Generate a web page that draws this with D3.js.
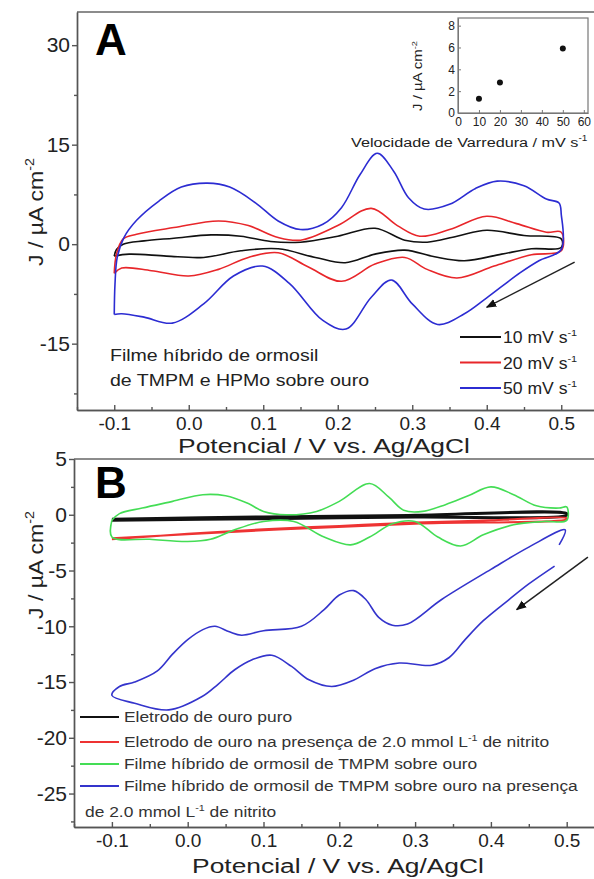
<!DOCTYPE html>
<html>
<head>
<meta charset="utf-8">
<script src="https://cdn.jsdelivr.net/npm/d3@7"></script>
<style>
  body { margin: 0; background: #fff; }
  text { font-family: "Liberation Sans", Arial, sans-serif; }
</style>
</head>
<body>
<svg width="594" height="879"></svg>
<script>
// ---------- data ----------
var xTicks = [-0.1, 0.0, 0.1, 0.2, 0.3, 0.4, 0.5];
var xMinor = [-0.15, -0.05, 0.05, 0.15, 0.25, 0.35, 0.45];
var yTicksA = [-15, 0, 15, 30];
var yMinorA = [-22.5, -7.5, 7.5, 22.5];
var yTicksB = [-25, -20, -15, -10, -5, 0, 5];
var yMinorB = [-27.5, -22.5, -17.5, -12.5, -7.5, -2.5, 2.5];

// panel A : CVs at three scan rates (E / V, J / uA cm-2)
var cv10 = [[-0.1,-1.8],[-0.097,-0.8],[-0.088,0.0],[-0.06,0.5],[-0.02,0.9],[0.03,1.4],[0.07,1.2],[0.11,0.4],[0.15,0.3],[0.2,1.2],[0.25,2.4],[0.29,0.6],[0.32,0.3],[0.36,1.2],[0.40,2.1],[0.45,1.3],[0.5,0.8],
  [0.5,-0.5],[0.46,-0.7],[0.42,-1.5],[0.37,-2.5],[0.33,-1.9],[0.29,-0.9],[0.25,-1.5],[0.21,-2.8],[0.17,-2.0],[0.12,-0.7],[0.07,-1.0],[0.02,-2.0],[-0.03,-1.8],[-0.08,-1.5],[-0.1,-1.8]];
var cv20 = [[-0.1,-4.4],[-0.097,-1.5],[-0.088,0.8],[-0.07,1.5],[-0.02,2.5],[0.04,3.5],[0.08,2.8],[0.12,1.0],[0.15,0.6],[0.2,2.8],[0.245,5.4],[0.28,2.8],[0.31,1.2],[0.35,2.2],[0.40,4.2],[0.44,3.1],[0.48,1.8],[0.5,1.8],
  [0.5,-1.0],[0.46,-1.6],[0.41,-3.3],[0.36,-5.1],[0.32,-3.8],[0.29,-2.0],[0.25,-3.0],[0.205,-5.6],[0.16,-3.4],[0.12,-1.3],[0.08,-2.0],[0.04,-3.8],[0.0,-4.8],[-0.05,-4.0],[-0.09,-3.6],[-0.1,-4.4]];
var cv50 = [[-0.1,-10.6],[-0.099,-6],[-0.096,-2],[-0.087,1.0],[-0.07,3.6],[-0.04,6.5],[-0.01,8.6],[0.025,9.2],[0.055,8.6],[0.09,6.2],[0.12,3.5],[0.15,2.2],[0.18,3.0],[0.205,5.5],[0.23,10.5],[0.253,13.7],[0.275,11.0],[0.295,7.0],[0.316,5.3],[0.35,6.0],[0.385,8.4],[0.414,9.5],[0.45,8.8],[0.48,6.8],[0.497,6.2],[0.5,4.5],
  [0.5,-0.8],[0.47,-2.5],[0.445,-4.3],[0.40,-8.1],[0.37,-10.5],[0.334,-12.1],[0.30,-9.0],[0.272,-5.4],[0.245,-8.0],[0.211,-12.8],[0.18,-11.5],[0.135,-5.9],[0.099,-3.3],[0.06,-4.8],[0.02,-9.0],[-0.022,-11.9],[-0.06,-11.0],[-0.09,-10.5],[-0.1,-10.6]];
var seriesA = [cv10, cv20, cv50];
var labelsA = ["10 mV s", "20 mV s", "50 mV s"];
var colorsA = ["#111111", "#e8262a", "#2c2cd2"];

// inset : peak current vs scan rate
var scanRates = [10, 20, 50];
var peakJ = [1.3, 2.8, 5.9];
var insetXTicks = [0, 10, 20, 30, 40, 50, 60];
var insetYTicks = [0, 2, 4, 6, 8];

// panel B
var cvGold = [[-0.1,-0.4],[0.1,-0.2],[0.3,-0.05],[0.5,0.1],[0.5,-0.05],[0.3,-0.2],[0.1,-0.35],[-0.1,-0.5]];
var cvGoldNitrite = [[-0.1,-2.2],[0.0,-1.7],[0.1,-1.3],[0.2,-1.0],[0.3,-0.7],[0.4,-0.5],[0.5,-0.3],[0.5,-0.4],[0.3,-0.8],[0.1,-1.4],[-0.1,-2.1]];
var cvFilm = [[-0.1,-0.5],[-0.09,0.1],[-0.06,0.6],[-0.02,1.2],[0.02,1.8],[0.05,1.7],[0.08,1.0],[0.1,0.3],[0.13,0.0],[0.17,0.3],[0.2,1.2],[0.24,2.8],[0.265,1.6],[0.285,0.4],[0.31,0.3],[0.34,0.9],[0.37,1.7],[0.40,2.5],[0.43,1.8],[0.46,0.8],[0.49,0.6],[0.5,0.7],
  [0.5,-0.5],[0.47,-0.6],[0.43,-0.9],[0.39,-1.8],[0.36,-2.8],[0.33,-2.0],[0.3,-0.6],[0.27,-0.8],[0.24,-2.0],[0.215,-2.7],[0.18,-2.0],[0.14,-0.6],[0.1,-0.6],[0.06,-1.4],[0.03,-2.2],[0.0,-2.4],[-0.05,-2.2],[-0.1,-2.0],[-0.1,-0.5]];
var cvFilmNitrite = [[0.484,-4.6],[0.45,-6.2],[0.424,-7.6],[0.39,-9.5],[0.366,-11.2],[0.345,-12.8],[0.322,-13.5],[0.279,-13.3],[0.247,-13.8],[0.22,-14.8],[0.19,-15.4],[0.16,-14.8],[0.137,-13.6],[0.111,-12.6],[0.085,-13.0],[0.062,-13.9],[0.04,-15.2],[0.019,-16.3],[-0.025,-17.5],[-0.07,-16.9],[-0.1,-16.2],
  [-0.09,-15.4],[-0.07,-15.0],[-0.04,-14.0],[-0.02,-12.5],[0.0,-11.2],[0.02,-10.3],[0.036,-10.0],[0.055,-10.5],[0.071,-10.8],[0.1,-10.4],[0.15,-10.0],[0.18,-8.5],[0.2,-7.2],[0.219,-6.8],[0.235,-7.6],[0.252,-9.2],[0.27,-9.9],[0.29,-9.8],[0.335,-7.6],[0.40,-4.9],[0.45,-2.9],[0.498,-1.35],[0.49,-2.7]];
var seriesB = [cvGold, cvGoldNitrite, cvFilm, cvFilmNitrite];
var colorsB = ["#111111", "#ee3333", "#44dd55", "#3434cc"];
var widthsB = [3, 2, 1.6, 1.6];
var labelsB = [
  [["Eletrodo de ouro puro"]],
  [["Eletrodo de ouro na presença de 2.0 mmol L"], ["-1", true], [" de nitrito"]],
  [["Filme híbrido de ormosil de TMPM sobre ouro"]],
  [["Filme híbrido de ormosil de TMPM sobre ouro na presença"]]
];

// ---------- helpers ----------
var svg = d3.select("svg");
svg.append("rect").attr("width", 594).attr("height", 879).attr("fill", "#fff");
var defs = svg.append("defs");
defs.append("marker").attr("id", "head").attr("viewBox", "0 0 10 10")
  .attr("refX", 9).attr("refY", 5).attr("markerWidth", 7).attr("markerHeight", 7)
  .attr("orient", "auto").append("path").attr("d", "M0,1 L10,5 L0,9 Z").attr("fill", "#111");

function txt(parent, x, y, parts, o) {
  var tr = "translate(" + x + "," + y + ")" + (o.rot ? " rotate(" + o.rot + ")" : "") + " scale(" + (o.sx || 1) + ",1)";
  var t = parent.append("g").attr("transform", tr).append("text")
    .attr("font-size", o.size).attr("text-anchor", o.anchor || "start")
    .attr("fill", o.fill || "#222").attr("font-weight", o.weight || "normal");
  var up = false;
  parts.forEach(function(p) {
    var ts = t.append("tspan").text(p[0]);
    if (p[1]) { ts.attr("font-size", o.size * 0.62); if (!up) ts.attr("dy", -o.size * 0.42); up = true; }
    else if (up) { ts.attr("dy", o.size * 0.42); up = false; }
  });
  return t;
}
function fmt(f) { return function(d) { return d3.format(f)(d).replace("\u2212", "-"); }; }
function styleAxis(g, size) {
  g.selectAll("path.domain, line").attr("stroke", "#555").attr("stroke-width", 1.4);
  g.selectAll("text").attr("font-size", size).attr("fill", "#222")
    .attr("font-family", "'Liberation Sans', Arial, sans-serif");
}

function panelAxes(x, y, yMaj, yMin) {
  var x0 = x.range()[0], x1 = x.range()[1], y0 = y.range()[0], y1 = y.range()[1];
  svg.append("line").attr("x1", x0).attr("x2", x1).attr("y1", y1).attr("y2", y1).attr("stroke", "#666").attr("stroke-width", 1.4);
  svg.append("line").attr("x1", x1).attr("x2", x1).attr("y1", y1).attr("y2", y0).attr("stroke", "#666").attr("stroke-width", 1.4);
  var gx = svg.append("g").attr("transform", "translate(0," + y0 + ")")
    .call(d3.axisBottom(x).tickValues(xTicks).tickSize(-5).tickSizeOuter(0).tickPadding(7).tickFormat(fmt(".1f")));
  styleAxis(gx, 19);
  var gxm = svg.append("g").attr("transform", "translate(0," + y0 + ")")
    .call(d3.axisBottom(x).tickValues(xMinor).tickSize(-3).tickSizeOuter(0).tickFormat(""));
  styleAxis(gxm, 19);
  var gy = svg.append("g").attr("transform", "translate(" + x0 + ",0)")
    .call(d3.axisLeft(y).tickValues(yMaj).tickSize(5).tickSizeOuter(0).tickPadding(2).tickFormat(fmt("d")));
  styleAxis(gy, 21);
  var gym = svg.append("g").attr("transform", "translate(" + x0 + ",0)")
    .call(d3.axisLeft(y).tickValues(yMin).tickSize(3).tickSizeOuter(0).tickFormat(""));
  styleAxis(gym, 21);
}

var jLabel = [["J / \u00b5A cm"], ["-2", true]];
var eLabel = [["Potencial / V vs. Ag/AgCl"]];

// ---------- panel A ----------
var xA = d3.scaleLinear().domain([-0.15, 0.55]).range([77, 598.5]);
var yA = d3.scaleLinear().domain([-25, 35]).range([410, 12]);
panelAxes(xA, yA, yTicksA, yMinorA);

var lineA = d3.line().x(function(d) { return xA(d[0]); }).y(function(d) { return yA(d[1]); })
  .curve(d3.curveCatmullRom.alpha(0.5));
svg.append("g").selectAll("path").data(seriesA).enter().append("path")
  .attr("d", lineA).attr("fill", "none")
  .attr("stroke", function(d, i) { return colorsA[i]; }).attr("stroke-width", 1.6);

txt(svg, 95, 55, [["A"]], { size: 44, weight: "bold", fill: "#000" });
txt(svg, 43, 212, jLabel, { size: 21, rot: -90, anchor: "middle", sx: 1.1 });
txt(svg, 324, 453, eLabel, { size: 20, anchor: "middle", sx: 1.32 });
txt(svg, 110, 361, [["Filme híbrido de ormosil"]], { size: 17, sx: 1.15 });
txt(svg, 110, 386, [["de TMPM e HPMo sobre ouro"]], { size: 17, sx: 1.15 });

var legA = svg.append("g").selectAll("g").data(labelsA).enter().append("g")
  .attr("transform", function(d, i) { return "translate(460," + (337 + i * 25.5) + ")"; });
legA.append("line").attr("x1", 0).attr("x2", 41).attr("stroke-width", 1.8)
  .attr("stroke", function(d, i) { return colorsA[i]; });
legA.each(function(d) { txt(d3.select(this), 43, 6, [[d], ["-1", true]], { size: 16, sx: 1.1 }); });

// arrow A
svg.append("line").attr("x1", xA(0.518)).attr("y1", yA(-2.7)).attr("x2", xA(0.400)).attr("y2", yA(-9.5))
  .attr("stroke", "#222").attr("stroke-width", 1.5).attr("marker-end", "url(#head)");

// inset
var xI = d3.scaleLinear().domain([0, 62]).range([458, 588]);
var yI = d3.scaleLinear().domain([0, 8.7]).range([113, 18]);
svg.append("rect").attr("x", 458).attr("y", 18).attr("width", 130).attr("height", 95)
  .attr("fill", "#fff").attr("stroke", "#777").attr("stroke-width", 1.2);
var gix = svg.append("g").attr("transform", "translate(0,113)")
  .call(d3.axisBottom(xI).tickValues(insetXTicks).tickSize(-3).tickSizeOuter(0).tickPadding(4));
styleAxis(gix, 12);
var giy = svg.append("g").attr("transform", "translate(458,0)")
  .call(d3.axisLeft(yI).tickValues(insetYTicks).tickSize(-3).tickSizeOuter(0).tickPadding(3));
styleAxis(giy, 12);
gix.selectAll("path.domain, line").attr("stroke", "#777").attr("stroke-width", 1);
giy.selectAll("path.domain, line").attr("stroke", "#777").attr("stroke-width", 1);
svg.append("g").selectAll("circle").data(scanRates).enter().append("circle")
  .attr("cx", function(d) { return xI(d); }).attr("cy", function(d, i) { return yI(peakJ[i]); })
  .attr("r", 3).attr("fill", "#111");
txt(svg, 422, 76, jLabel, { size: 13, rot: -90, anchor: "middle", sx: 1.15 });
txt(svg, 351, 147, [["Velocidade de Varredura / mV s"], ["-1", true]], { size: 13.5, sx: 1.2 });

// ---------- panel B ----------
var xB = d3.scaleLinear().domain([-0.15, 0.55]).range([74, 604.6]);
var yB = d3.scaleLinear().domain([-28, 5]).range([827, 459]);
panelAxes(xB, yB, yTicksB, yMinorB);

var lineB = d3.line().x(function(d) { return xB(d[0]); }).y(function(d) { return yB(d[1]); })
  .curve(d3.curveCatmullRom.alpha(0.5));
svg.append("g").selectAll("path").data(seriesB).enter().append("path")
  .attr("d", lineB).attr("fill", "none")
  .attr("stroke", function(d, i) { return colorsB[i]; })
  .attr("stroke-width", function(d, i) { return widthsB[i]; });

txt(svg, 95, 498, [["B"]], { size: 44, weight: "bold", fill: "#000" });
txt(svg, 43, 565, jLabel, { size: 21, rot: -90, anchor: "middle", sx: 1.1 });
txt(svg, 338, 873, eLabel, { size: 20, anchor: "middle", sx: 1.32 });

var legB = svg.append("g").selectAll("g").data(labelsB).enter().append("g")
  .attr("transform", function(d, i) { return "translate(80," + [717, 742, 764, 786][i] + ")"; });
legB.append("line").attr("x1", 0).attr("x2", 39).attr("stroke-width", 2)
  .attr("stroke", function(d, i) { return colorsB[i]; });
legB.each(function(d) { txt(d3.select(this), 44, 5, d, { size: 14.5, sx: 1.2, fill: "#333" }); });
txt(svg, 85, 817, [["de 2.0 mmol L"], ["-1", true], [" de nitrito"]], { size: 14.5, sx: 1.2, fill: "#333" });

// arrow B
svg.append("line").attr("x1", xB(0.528)).attr("y1", yB(-3.8)).attr("x2", xB(0.434)).attr("y2", yB(-8.5))
  .attr("stroke", "#222").attr("stroke-width", 1.5).attr("marker-end", "url(#head)");
</script>
</body>
</html>
